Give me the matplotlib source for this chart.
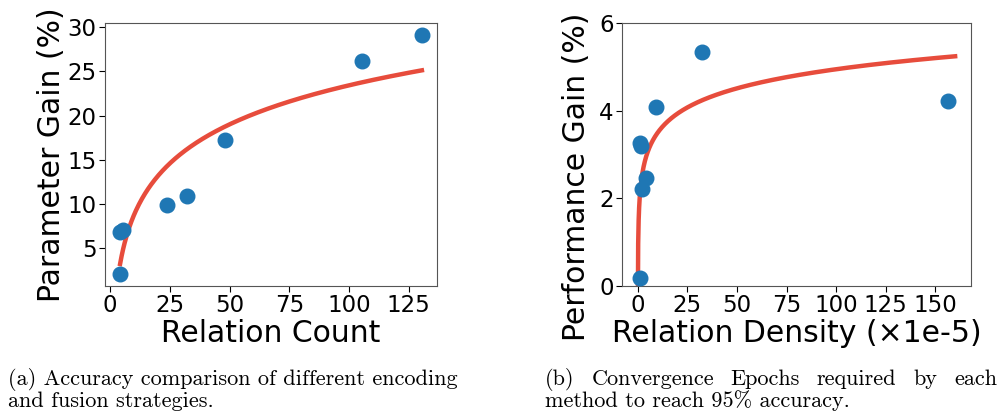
import numpy as np
import matplotlib
matplotlib.use("Agg")
import matplotlib.pyplot as plt

# (a) relation count vs parameter gain
count_x = [4.2, 4.2, 5.3, 23.8, 32.2, 48.0, 105.4, 130.5]
count_y = [2.1, 6.8, 7.1, 9.9, 10.9, 17.2, 26.2, 29.1]

# (b) relation density (x1e-5) vs performance gain
dens_x = [1.0, 1.2, 1.8, 2.0, 4.3, 9.2, 32.3, 156.4]
dens_y = [0.18, 3.27, 3.2, 2.22, 2.46, 4.09, 5.35, 4.23]

blue = "#1f77b4"
red = "#e74c3c"

fig = plt.figure(figsize=(10, 4.11), dpi=100)
ax1 = fig.add_axes([0.105, 0.304, 0.332, 0.64])
ax2 = fig.add_axes([0.622, 0.304, 0.349, 0.64])

def log_fit(x, y, xs):
    b, a = np.polyfit(np.log(x), y, 1)
    return a + b * np.log(xs)

# left panel
ax1.scatter(count_x, count_y, s=110, color=blue, zorder=3)
xs = np.linspace(min(count_x), max(count_x), 400)
ax1.plot(xs, log_fit(count_x, count_y, xs), color=red, lw=3.2, zorder=2)
ax1.set_xticks([0, 25, 50, 75, 100, 125])
ax1.set_yticks([5, 10, 15, 20, 25, 30])
ax1.set_xlabel("Relation Count", fontsize=21.5, labelpad=1)
ax1.set_ylabel("Parameter Gain (%)", fontsize=21.5, labelpad=1)

# right panel
ax2.scatter(dens_x, dens_y, s=110, color=blue, zorder=3)
xs2 = np.linspace(0.02, 160, 2000)
ax2.plot(xs2, log_fit(dens_x, dens_y, xs2), color=red, lw=3.2, zorder=2)
ax2.set_ylim(0, 6)
ax2.set_xticks([0, 25, 50, 75, 100, 125, 150])
ax2.set_yticks([0, 2, 4, 6])
ax2.set_xlabel("Relation Density (\u00d71e-5)", fontsize=21.5, labelpad=1)
ax2.set_ylabel("Performance Gain (%)", fontsize=21.5)
ax2.yaxis.set_label_coords(-0.09, 0.416)

for ax in (ax1, ax2):
    ax.tick_params(labelsize=16.5, length=4, pad=2)
    for sp in ax.spines.values():
        sp.set_color("#555555")

# captions
cap = dict(family="cmr10", fontsize=16, va="baseline")
y1 = 1 - 385 / 411
y2 = 1 - 407 / 411
fig.text(0.008, y1, "(a) Accuracy comparison of different encoding", **cap)
fig.text(0.008, y2, "and fusion strategies.", **cap)
fig.text(0.545, y2, "method to reach 95% accuracy.", **cap)

# justified first line of caption (b)
words = ["(b)", "Convergence", "Epochs", "required", "by", "each"]
renderer = fig.canvas.get_renderer()
objs = [fig.text(0, y1, w, **cap) for w in words]
widths = [t.get_window_extent(renderer).width for t in objs]
x0, x1 = 545, 997
gap = (x1 - x0 - sum(widths)) / (len(words) - 1)
pos = x0
for t, w in zip(objs, widths):
    t.set_x(pos / 1000)
    pos += w + gap

fig.savefig("out.png", dpi=100)
